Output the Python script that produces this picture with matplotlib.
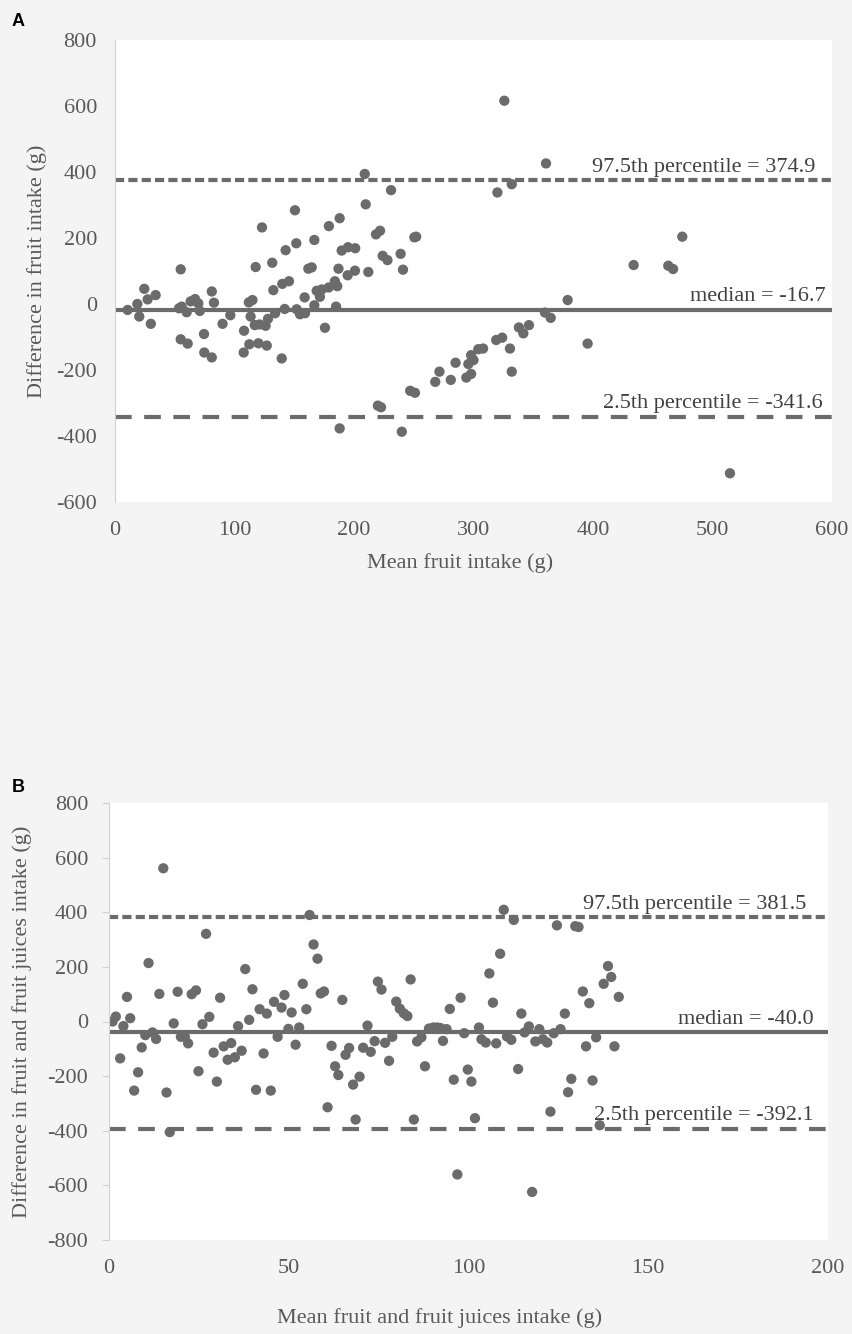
import matplotlib.pyplot as plt

plt.rcParams['font.family'] = ['Liberation Serif', 'DejaVu Serif']
plt.rcParams['axes.unicode_minus'] = False

# Panel A: mean fruit intake vs difference
a_mean = [10.6, 18.7, 20.3, 24.5, 27.3, 30, 34, 55, 53.6, 55.8, 60, 55, 60.8, 63.3, 67, 69.7,
          71, 74.5, 74.7, 81, 81, 82.8, 90, 96.5, 107.7, 108, 112, 115, 113.5, 112.4, 117.7,
          123, 117, 120, 121, 127, 126, 128, 131.6, 132.5, 134, 139.5, 140, 145.6, 142,
          142.8, 151.7, 150.6, 152, 154.8, 159, 158.7, 161.8, 164.6, 166.8, 166.8, 168.8,
          171.5, 173, 175.7, 178.8, 179, 184, 186, 187, 185, 188, 188, 189.7, 195, 201,
          194.7, 200.8, 209, 209.8, 212, 218.4, 221.8, 224, 228, 231, 239, 241, 250.5, 252,
          220, 222.6, 240, 247, 251, 268, 271.5, 281, 285, 294, 298, 295.7, 298, 300, 304,
          308, 319, 324, 320, 325.8, 332, 330.5, 332, 338, 341.7, 346.4, 360.7, 359.8,
          364.6, 378.8, 395.5, 434, 463, 467, 474.7, 514.6]
a_diff = [-18, 0, -38, 46, 14, -60, 27, 105, -13, -8, -25, -107, -120, 8, 15, 2,
          -21, -91, -147, -162, 38, 4, -60, -34, -147, -81, 5, 12, -38, -122, 112,
          232, -64, -119, -62, -126, -66, -45, 125, 42, -28, -165, 61, 69, -15,
          163, 184, 284, -16, -31, -28, 20, 107, 111, 194, -4, 40,
          22, 44, -72, 50, 236, 69, 54, 107, -8, 260, -377, 162, 172, 169,
          87, 101, 394, 302, 97, 211, 222, 146, 133, 345, 152, 104, 202, 204,
          -308, -313, -387, -263, -269, -236, -205, -230, -178, -223, -212, -182, -155, -170, -137,
          -135, -109, -102, 338, 616, 363, -135, -205, -71, -89, -64, 426, -26,
          -42, 12, -120, 118, 116, 106, 204, -513]
a_median, a_lo, a_hi = -16.7, -341.6, 374.9

# Panel B: mean fruit and fruit juices intake vs difference
b_mean = [1, 1.9, 3.1, 4, 5, 5.9, 7, 8.1, 9.1, 10.1, 11, 12.1, 13.1, 14, 15.1, 16, 16.9, 18,
          19.1, 20, 21.1, 22, 23, 24.2, 24.9, 26, 27, 27.9, 29.1, 30, 30.9, 31.9, 33, 34, 35,
          35.9, 36.9, 37.9, 39, 39.9, 40.9, 41.9, 43, 43.9, 45, 45.9, 46.9, 48, 48.8, 49.9,
          50.8, 51.9, 52.9, 53.9, 54.9, 55.8, 56.9, 58, 58.9, 59.8, 60.8, 61.9, 62.9, 63.8,
          64.9, 65.8, 66.8, 67.9, 68.6, 69.7, 70.7, 71.9, 72.8, 73.9, 74.8, 75.8, 76.8, 77.9,
          78.8, 79.9, 80.9, 82, 83, 83.9, 84.8, 85.7, 86.9, 87.9, 89, 90.2, 91.3, 92.2, 92.9,
          93.9, 94.8, 95.9, 96.9, 97.8, 98.8, 99.8, 100.8, 101.8, 102.9, 103.6, 104.8, 105.8,
          106.8, 107.7, 108.8, 109.8, 110.7, 111.9, 112.6, 113.8, 114.7, 115.6, 116.8, 117.7,
          118.6, 119.7, 120.7, 121.9, 122.8, 123.7, 124.6, 125.6, 126.8, 127.7, 128.6, 129.7,
          130.6, 131.8, 132.7, 133.6, 134.5, 135.5, 136.5, 137.6, 138.8, 139.7, 140.6, 141.8]
b_diff = [0, 18, -135, -17, 90, 12, -253, -186, -95, -50, 214, -40, -64, 101, 561, -260, -405, -7,
          109, -56, -56, -80, 100, 114, -182, -10, 321, 17, -114, -220, 87, -91, -140, -79, -131,
          -17, -107, 192, 6, 118, -250, 45, -117, 29, -253, 72, -56, 51, 97, -27,
          33, -85, -22, 138, 45, 390, 282, 230, 103, 110, -314, -89, -164, -196,
          79, -122, -97, -231, -359, -202, -96, -15, -111, -72, 146, 117, -78, -144,
          -56, 73, 47, 30, 20, 154, -359, -73, -58, -164, -26, -22, -22, -24, -71,
          -28, 46, -213, -560, 87, -43, -176, -220, -354, -22, -65, -77, 176,
          69, -80, 248, 409, -55, -67, 372, -174, 29, -40, -18, -624,
          -73, -28, -65, -77, -330, -43, 352, -28, 29, -259, -210, 349,
          346, 110, -91, 67, -216, -58, -380, 138, 203, 163, -91, 90]
b_median, b_lo, b_hi = -40.0, -392.1, 381.5

gray = '#6b6b6b'
tick_gray = '#595959'
fs = 16

fig = plt.figure(figsize=(8.53, 13.34), dpi=100, facecolor='#f4f4f4')


def panel(ax, xs, ys, med, lo, hi, xlim, ylim, xstep, ystep, xlabel, ylabel, xtext, ticks_out, off):
    ax.set_facecolor('white')
    ax.axhline(hi, color=gray, lw=3, ls=(0, (2.2, 1.0)), zorder=1)
    ax.axhline(med, color=gray, lw=3, zorder=1)
    ax.axhline(lo, color=gray, lw=3, ls=(0, (4, 3)), zorder=1)
    ax.scatter(xs, ys, s=55, color=gray, edgecolors='none', zorder=2)
    ax.set_xlim(*xlim)
    ax.set_ylim(*ylim)
    ax.set_xticks(range(xlim[0], xlim[1] + 1, xstep))
    ax.set_yticks(range(ylim[0], ylim[1] + 1, ystep))
    for s in ['top', 'right', 'bottom']:
        ax.spines[s].set_visible(False)
    ax.spines['left'].set_color('#d0d0d0')
    ax.tick_params(axis='x', length=0, pad=14, labelsize=fs, labelcolor=tick_gray)
    ax.tick_params(axis='y', length=5 if ticks_out else 0, color='#d0d0d0', pad=10 if ticks_out else 13,
                   labelsize=fs, labelcolor=tick_gray)
    ax.set_xlabel(xlabel, fontsize=fs, color=tick_gray, va='center')
    ax.set_ylabel(ylabel, fontsize=fs, color=tick_gray, va='center')
    ax.text(xtext[0], hi + off, f'97.5th percentile = {hi:.1f}', ha='right', va='bottom', fontsize=fs, color='#404040')
    ax.text(xtext[1], med + off, f'median = {med:.1f}', ha='right', va='bottom', fontsize=fs, color='#404040')
    ax.text(xtext[2], lo + off, f'2.5th percentile = {lo:.1f}', ha='right', va='bottom', fontsize=fs, color='#404040')


axA = fig.add_axes([115 / 853, 1 - 502 / 1334, 717 / 853, 462 / 1334])
panel(axA, a_mean, a_diff, a_median, a_lo, a_hi, (0, 600), (-600, 800), 100, 200,
      'Mean fruit intake (g)', 'Difference in fruit intake (g)', (586, 595, 592), False, 10)
axA.xaxis.set_label_coords((460 - 115) / 717, (502 - 563) / 462)
axA.yaxis.set_label_coords((37 - 115) / 717, 0.5)

axB = fig.add_axes([109 / 853, 1 - 1240 / 1334, 719 / 853, 437 / 1334])
panel(axB, b_mean, b_diff, b_median, b_lo, b_hi, (0, 200), (-800, 800), 50, 200,
      'Mean fruit and fruit juices intake (g)', 'Difference in fruit and fruit juices intake (g)',
      (194, 196, 196), True, 12)
axB.xaxis.set_label_coords((440 - 109) / 719, (1240 - 1318) / 437)
axB.yaxis.set_label_coords((22 - 109) / 719, 0.5)

fig.text(12 / 853, 1 - 22 / 1334, 'A', fontsize=13, fontweight='bold', family='Liberation Sans', va='center')
fig.text(12 / 853, 1 - 788 / 1334, 'B', fontsize=13, fontweight='bold', family='Liberation Sans', va='center')

fig.savefig('out.png', dpi=100, facecolor=fig.get_facecolor())
